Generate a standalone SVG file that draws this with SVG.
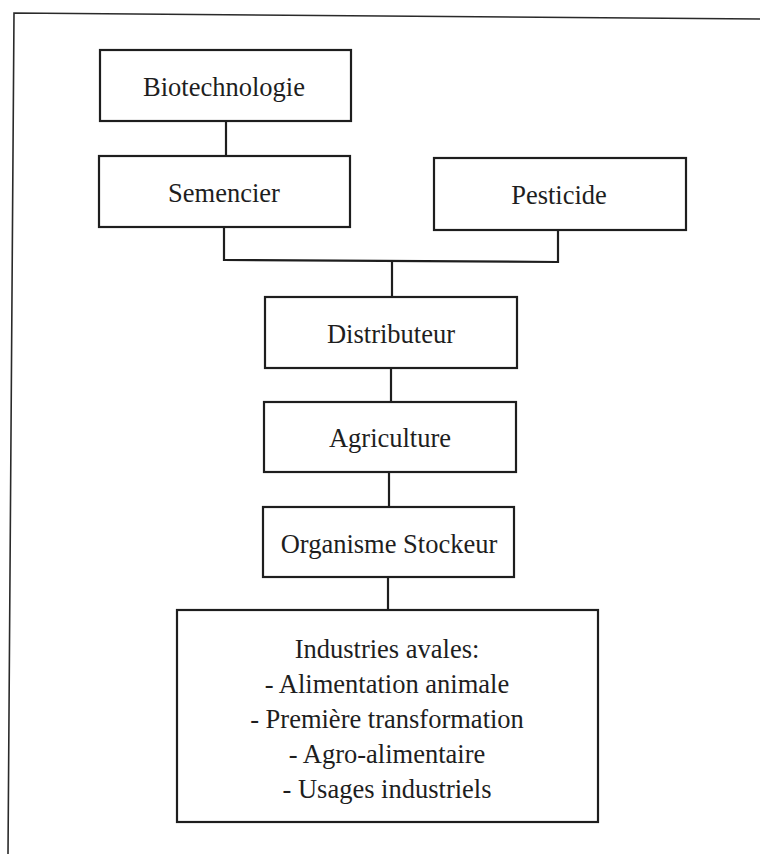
<svg xmlns="http://www.w3.org/2000/svg" width="760" height="854" viewBox="0 0 760 854">
<style>
.box{fill:#fff;stroke:#1e1e1e;stroke-width:2.2}
.lbl{font-family:"Liberation Serif","Times New Roman",serif;font-size:26.5px;fill:#1e1e1e;text-anchor:middle}
.con{fill:none;stroke:#1e1e1e;stroke-width:2.2}
.frame{fill:none;stroke:#2a2a2a;stroke-width:1.6}
</style>
<rect width="760" height="854" fill="#fff"/>
<polyline class="frame" points="8,854 14,13 760,19"/>
<g id="connectors">
<line class="con" x1="226" y1="121" x2="226" y2="156"/>
<polyline class="con" points="224,227 224,260 558,262 558,230"/>
<line class="con" x1="392" y1="261" x2="392" y2="297"/>
<line class="con" x1="391" y1="368" x2="391" y2="402"/>
<line class="con" x1="389" y1="472" x2="389" y2="507"/>
<line class="con" x1="388" y1="577" x2="388" y2="610"/>
</g>
<g id="biotechnologie">
<rect class="box" x="100" y="50" width="251" height="71"/>
<text class="lbl" x="224" y="96">Biotechnologie</text>
</g>
<g id="semencier">
<rect class="box" x="99" y="156" width="251" height="71"/>
<text class="lbl" x="224" y="202">Semencier</text>
</g>
<g id="pesticide">
<rect class="box" x="434" y="158" width="252" height="72"/>
<text class="lbl" x="559" y="204">Pesticide</text>
</g>
<g id="distributeur">
<rect class="box" x="265" y="297" width="252" height="71"/>
<text class="lbl" x="391" y="343">Distributeur</text>
</g>
<g id="agriculture">
<rect class="box" x="264" y="402" width="252" height="70"/>
<text class="lbl" x="390" y="447">Agriculture</text>
</g>
<g id="organisme-stockeur">
<rect class="box" x="263" y="507" width="251" height="70"/>
<text class="lbl" x="389" y="553">Organisme Stockeur</text>
</g>
<g id="industries-avales">
<rect class="box" x="177" y="610" width="421" height="212"/>
<text class="lbl" x="387" y="658">Industries avales:</text>
<text class="lbl" x="387" y="693">- Alimentation animale</text>
<text class="lbl" x="387" y="728">- Première transformation</text>
<text class="lbl" x="387" y="763">- Agro-alimentaire</text>
<text class="lbl" x="387" y="798">- Usages industriels</text>
</g>
</svg>
